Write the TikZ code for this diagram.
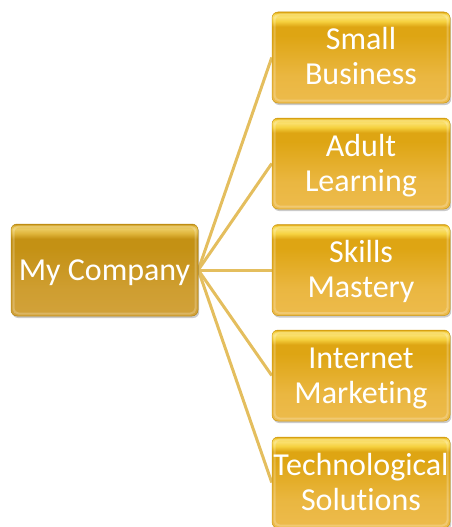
\documentclass[tikz,border=0pt]{standalone}
\usepackage{fontspec}
\setmainfont[Ligatures=NoCommon]{Carlito}
\usetikzlibrary{shadows,backgrounds}

% gold palette
\definecolor{gbot}{HTML}{EDBB4C}
\definecolor{gmid}{HTML}{DEA513}
\definecolor{ghi}{HTML}{F6D240}
\definecolor{ghitop}{HTML}{FAE070}
\definecolor{rbot}{HTML}{D2A23A}
\definecolor{rmid}{HTML}{C49114}
\definecolor{rhi}{HTML}{E0B63C}
\definecolor{rhitop}{HTML}{EBCB62}
\definecolor{linkcol}{HTML}{E4BE5E}

% glossy vertical shadings (25bp = bottom edge, 75bp = top edge)
\pgfdeclareverticalshading{goldgloss}{100bp}{color(0bp)=(gbot); color(25bp)=(gbot);
  color(40bp)=(gbot!80!gmid); color(62bp)=(gmid); color(67bp)=(gmid);
  color(70bp)=(ghi); color(72.5bp)=(ghitop); color(74bp)=(ghi); color(75bp)=(gmid); color(100bp)=(gmid)}
\pgfdeclareverticalshading{rootgloss}{100bp}{color(0bp)=(rbot); color(25bp)=(rbot);
  color(40bp)=(rbot!75!rmid); color(62bp)=(rmid); color(67bp)=(rmid);
  color(70bp)=(rhi); color(72.5bp)=(rhitop); color(74bp)=(rhi); color(75bp)=(rmid); color(100bp)=(rmid)}

% labels with fixed line boxes; lowered a little while keeping their nominal size
\newcommand\boxtext[2][3pt]{\raisebox{-#1}[\height][\depth]{\begin{tabular}{@{}c@{}}#2\end{tabular}}}

\tikzset{
  box/.style={rounded corners=6pt, shading=goldgloss, draw=gmid!92!black, line width=0.5pt,
    minimum width=178pt, minimum height=91pt, inner sep=0pt,
    text=white, font=\fontsize{32}{35}\selectfont,
    drop shadow={shadow xshift=1.2pt, shadow yshift=-2pt, opacity=0.35, fill=black!60},
    path picture={
      \draw[white, opacity=0.22, line width=2pt, rounded corners=5pt]
        ([shift={(2.5pt,-2.5pt)}]path picture bounding box.north west) rectangle
        ([shift={(-2.5pt,2.5pt)}]path picture bounding box.south east);
    }},
  rootbox/.style={box, shading=rootgloss, draw=rmid!92!black, minimum width=187pt, minimum height=92pt},
  link/.style={draw=linkcol, line width=3pt}
}

\begin{document}
\begin{tikzpicture}[x=1pt,y=1pt]
  \useasboundingbox (0,0) rectangle (452,-527);

  \node[rootbox] (root) at (104.5,-270) {\boxtext{My Company}};

  \node[box] (n1) at (361,-57.5)  {\boxtext{Small\\Business}};
  \node[box] (n2) at (361,-163.5) {\boxtext{Adult\\Learning}};
  \node[box] (n3) at (361,-270)   {\boxtext{Skills\\Mastery}};
  \node[box] (n4) at (361,-375.5) {\boxtext{Internet\\Marketing}};
  \node[box] (n5) at (361,-482.5) {\boxtext{Technological\\Solutions}};

  \begin{scope}[on background layer]
    \foreach \k in {1,...,5} {
      \draw[link] (root.east) -- (n\k.west);
    }
  \end{scope}
\end{tikzpicture}
\end{document}
